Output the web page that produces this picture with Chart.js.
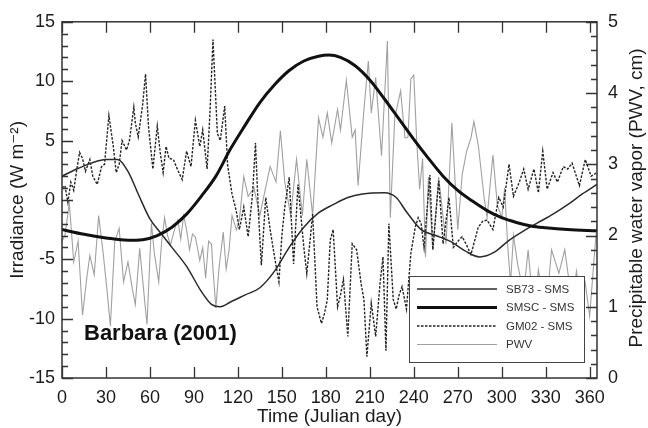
<!DOCTYPE html>
<html>
<head>
<meta charset="utf-8">
<script src="https://cdn.jsdelivr.net/npm/chart.js@4/dist/chart.umd.min.js"></script>
<style>
  html, body { margin: 0; padding: 0; background: #fff; }
  canvas { display: block; }
</style>
</head>
<body>
<canvas id="chart" width="648" height="428"></canvas>
<script>
// x axis ticks (Julian day)
const xTicks = [0, 30, 60, 90, 120, 150, 180, 210, 240, 270, 300, 330, 360];

// SB73 - SMS (W m-2)
const sb73Days = [0, 10, 20, 30, 38, 45, 52, 60, 68, 75, 85, 95, 102, 108, 115, 125, 135, 145, 155, 165,
  175, 185, 195, 205, 220, 228, 235, 245, 255, 265, 275, 285, 295, 305, 315, 325, 335, 345, 355, 365];
const sb73Vals = [2.0, 2.6, 3.1, 3.4, 3.4, 2.4, 0.5, -1.6, -2.9, -4.0, -5.6, -7.7, -8.8, -9.0, -8.6, -8.0, -7.4, -6.0, -4.0, -2.3,
  -1.1, -0.4, 0.2, 0.5, 0.6, 0.2, -1.0, -2.5, -3.0, -3.5, -4.3, -4.8, -4.4, -3.4, -2.6, -1.9, -1.2, -0.4, 0.5, 1.3];

// SMSC - SMS (W m-2)
const smscDays = [0, 15, 30, 45, 55, 65, 75, 85, 95, 105, 115, 125, 135, 145, 155, 165, 175, 182, 190, 200,
  210, 220, 230, 240, 250, 260, 270, 280, 290, 300, 310, 320, 330, 345, 365];
const smscVals = [-2.5, -2.9, -3.2, -3.4, -3.35, -3.0, -2.3, -1.2, 0.3, 2.0, 4.3, 6.3, 8.2, 9.7, 10.9, 11.7, 12.1, 12.2, 12.0, 11.3,
  10.1, 8.5, 6.8, 5.1, 3.5, 2.0, 0.8, -0.1, -0.9, -1.5, -1.9, -2.2, -2.35, -2.5, -2.6];

// GM02 - SMS (W m-2)
const gm02Days = [0, 2, 4, 6, 8, 10, 12, 14, 16, 19, 21, 24, 27, 29, 32, 35, 37, 39, 41, 44,
  46, 49, 50, 52, 55, 57, 59, 62, 65, 67, 69, 71, 73, 76, 79, 82, 85, 88, 91, 94,
  96, 99, 101, 103, 106, 108, 111, 113, 116, 119, 121, 124, 127, 130, 132, 134, 136, 139, 142, 145,
  148, 150, 152, 155, 158, 161, 165, 167, 171, 174, 177, 179, 181, 183, 185, 188, 190, 192, 195, 198,
  201, 204, 206, 208, 211, 214, 217, 219, 221, 223, 226, 228, 230, 232, 235, 238, 241, 243, 245, 247,
  251, 253, 257, 260, 264, 267, 270, 273, 276, 279, 284, 287, 290, 294, 298, 301, 305, 308, 312, 315,
  318, 322, 325, 328, 331, 335, 338, 342, 345, 348, 353, 357, 361, 365];
const gm02Vals = [1.0, 1.2, -0.2, 1.5, 0.8, 2.5, 4.0, 3.5, 2.4, 3.4, 2.0, 1.3, 2.8, 3.0, 7.1, 4.5, 2.3, 3.0, 5.0, 4.2,
  5.0, 7.8, 6.5, 5.3, 8.0, 10.6, 6.2, 2.6, 6.2, 4.0, 2.3, 4.5, 3.5, 3.4, 2.5, 1.7, 4.1, 2.8, 6.7, 4.5,
  5.9, 2.6, 7.5, 13.5, 5.6, 5.0, 7.9, 2.9, 0.5, -1.0, -2.5, -0.6, -3.1, 0.5, 4.8, -1.0, -5.5, 0.2, -2.5, -4.8,
  -6.9, -3.0, -0.6, 1.9, -5.4, 1.3, -4.0, -6.2, -1.2, -9.0, -10.4, -9.6, -8.4, -3.4, -2.5, -9.0, -8.0, -6.7, -11.5, -3.7,
  -4.2, -7.0, -8.4, -13.2, -8.7, -11.5, -7.0, -4.8, -12.7, -2.0, -8.4, -9.2, -8.0, -7.3, -9.2, -4.5, -2.3, -1.5, -2.0, -4.0,
  2.1, -4.2, 1.6, -3.7, 0.2, -4.0, -3.5, -3.1, -3.8, -4.6, -2.3, -1.8, -1.7, -2.5, 0.2, -0.6, 3.0, 0.3, 1.5, 2.6,
  0.9, 2.6, 0.6, 4.1, 0.9, 2.3, 1.5, 2.8, 2.6, 3.1, 1.2, 3.4, 2.0, 2.3];

// PWV (cm), right axis
const pwvDays = [0, 2, 5, 8, 11, 14, 17, 19, 22, 25, 28, 31, 33, 36, 39, 42, 45, 48, 50, 53,
  56, 58, 61, 63, 66, 68, 70, 72, 74, 77, 79, 81, 83, 85, 87, 89, 91, 94, 96, 98,
  100, 102, 103, 105, 107, 110, 112, 114, 116, 119, 121, 124, 127, 131, 135, 138, 142, 146, 149, 152,
  156, 160, 164, 167, 171, 175, 178, 181, 184, 188, 190, 194, 198, 200, 202, 206, 209, 211, 214, 218,
  222, 224, 227, 231, 234, 236, 238, 240, 242, 244, 246, 248, 250, 253, 257, 262, 266, 270, 273, 276,
  279, 281, 284, 288, 290, 294, 297, 300, 302, 304, 306, 308, 311, 315, 318, 322, 325, 330, 334, 339,
  343, 348, 351, 354, 357, 360, 363, 365];
const pwvVals = [1.92, 2.00, 2.45, 1.63, 1.92, 0.88, 1.42, 1.72, 1.45, 2.28, 1.77, 1.17, 0.73, 1.92, 2.10, 1.35, 1.63, 1.25, 1.03, 1.82,
  1.17, 0.75, 2.17, 1.75, 1.35, 1.92, 2.25, 2.00, 1.87, 2.10, 2.22, 1.95, 2.28, 2.08, 1.80, 2.02, 1.98, 1.65, 1.83, 1.40,
  1.92, 1.88, 1.53, 0.98, 1.52, 2.05, 1.53, 1.80, 2.28, 2.08, 2.22, 2.83, 2.55, 2.67, 2.28, 2.58, 2.97, 2.75, 3.47, 2.75,
  2.28, 3.07, 2.28, 3.07, 2.28, 3.65, 3.38, 3.72, 3.30, 3.77, 3.48, 4.18, 3.38, 3.48, 2.70, 3.77, 4.45, 3.72, 4.22, 3.12,
  4.73, 2.25, 3.65, 4.03, 3.37, 3.38, 4.20, 4.25, 3.33, 2.65, 3.08, 1.70, 2.82, 1.80, 2.82, 1.88, 3.58, 2.08, 2.85, 3.18,
  3.37, 3.60, 3.27, 2.53, 2.25, 3.13, 2.43, 2.25, 2.67, 1.88, 1.33, 2.00, 1.58, 1.18, 1.80, 0.87, 1.52, 0.87, 1.80, 1.47,
  1.80, 1.05, 1.50, 1.00, 1.33, 0.87, 1.67, 2.17];

const FONT = "'Liberation Sans', Arial, 'DejaVu Sans', sans-serif";
const TEXT = '#1c1c1c';
const AXIS = '#333333';

function zip(days, vals) {
  return days.map((d, i) => ({ x: d, y: vals[i] }));
}

const frameAndExtras = {
  id: 'frameAndExtras',
  afterDatasetsDraw(chart) {
    const { ctx, chartArea: a, scales } = chart;
    const x = scales.x, y = scales.y, y2 = scales.y2;
    ctx.save();

    // frame
    ctx.strokeStyle = AXIS;
    ctx.lineWidth = 1.5;
    ctx.strokeRect(a.left, a.top, a.right - a.left, a.bottom - a.top);

    // inward ticks
    ctx.lineWidth = 1.3;
    ctx.beginPath();
    for (const v of xTicks) {
      const px = Math.round(x.getPixelForValue(v)) + 0.5;
      ctx.moveTo(px, a.bottom); ctx.lineTo(px, a.bottom - 11);
      ctx.moveTo(px, a.top); ctx.lineTo(px, a.top + 11);
    }
    for (let v = -15; v <= 15; v++) {
      const py = Math.round(y.getPixelForValue(v)) + 0.5;
      const len = v % 5 === 0 ? 11 : 6;
      ctx.moveTo(a.left, py); ctx.lineTo(a.left + len, py);
    }
    for (let k = 0; k <= 25; k++) {
      const py = Math.round(y2.getPixelForValue(k / 5)) + 0.5;
      const len = k % 5 === 0 ? 11 : 6;
      ctx.moveTo(a.right, py); ctx.lineTo(a.right - len, py);
    }
    ctx.stroke();

    // legend box
    const bx = 409, by = 276, bw = 175, bh = 86;
    ctx.fillStyle = '#fff';
    ctx.fillRect(bx, by, bw, bh);
    ctx.strokeStyle = '#444';
    ctx.lineWidth = 1;
    ctx.strokeRect(bx + 0.5, by + 0.5, bw, bh);
    ctx.font = '11.5px ' + FONT;
    ctx.textBaseline = 'middle';
    ctx.textAlign = 'left';
    chart.data.datasets.forEach((ds, i) => {
      const ly = by + 13 + i * 18.5;
      ctx.beginPath();
      ctx.strokeStyle = ds.borderColor;
      ctx.lineWidth = ds.borderWidth;
      ctx.setLineDash(ds.borderDash || []);
      ctx.moveTo(bx + 8, ly); ctx.lineTo(bx + 88, ly);
      ctx.stroke();
      ctx.setLineDash([]);
      ctx.fillStyle = '#333';
      ctx.fillText(ds.label, bx + 97, ly + 0.5);
    });

    // station label
    ctx.fillStyle = '#111';
    ctx.font = 'bold 22px ' + FONT;
    ctx.fillText('Barbara (2001)', 84, 334);

    // right axis title, reading upward
    ctx.font = '19px ' + FONT;
    ctx.fillStyle = TEXT;
    ctx.textAlign = 'center';
    ctx.translate(637, (a.top + a.bottom) / 2 - 2);
    ctx.rotate(-Math.PI / 2);
    ctx.fillText('Precipitable water vapor (PWV, cm)', 0, 0);
    ctx.restore();
  }
};

new Chart(document.getElementById('chart').getContext('2d'), {
  type: 'line',
  data: {
    datasets: [
      {
        label: 'SB73 - SMS', data: zip(sb73Days, sb73Vals), yAxisID: 'y',
        borderColor: '#2a2a2a', borderWidth: 1.5, pointRadius: 0,
        cubicInterpolationMode: 'monotone', order: 1
      },
      {
        label: 'SMSC - SMS', data: zip(smscDays, smscVals), yAxisID: 'y',
        borderColor: '#111111', borderWidth: 3, pointRadius: 0,
        cubicInterpolationMode: 'monotone', order: 0
      },
      {
        label: 'GM02 - SMS', data: zip(gm02Days, gm02Vals), yAxisID: 'y',
        borderColor: '#222222', borderWidth: 1.4, borderDash: [2.5, 1.5], pointRadius: 0,
        tension: 0, order: 2
      },
      {
        label: 'PWV', data: zip(pwvDays, pwvVals), yAxisID: 'y2',
        borderColor: '#a0a0a0', borderWidth: 1.1, pointRadius: 0,
        tension: 0, order: 3
      }
    ]
  },
  options: {
    responsive: false,
    animation: false,
    devicePixelRatio: 1,
    layout: { padding: { top: 17, left: 0, right: 0, bottom: 0 } },
    plugins: { legend: { display: false }, tooltip: { enabled: false } },
    scales: {
      x: {
        type: 'linear', position: 'bottom', min: 0, max: 365,
        grid: { display: false, drawTicks: false }, border: { display: false },
        afterBuildTicks: s => { s.ticks = xTicks.map(v => ({ value: v })); },
        afterFit: s => { s.height = 50; },
        ticks: { padding: 9, maxRotation: 0, autoSkip: false, color: TEXT, font: { family: FONT, size: 18 } },
        title: { display: true, text: 'Time (Julian day)', color: TEXT, font: { family: FONT, size: 19 }, padding: { top: 0, bottom: 0 } }
      },
      y: {
        position: 'left', min: -15, max: 15,
        grid: { display: false, drawTicks: false }, border: { display: false },
        afterFit: s => { s.width = 62; },
        ticks: { stepSize: 5, padding: 7, color: TEXT, font: { family: FONT, size: 18 } },
        title: { display: true, text: 'Irradiance (W m\u207B\u00B2)', color: TEXT, font: { family: FONT, size: 19 }, padding: { top: 6, bottom: 0 } }
      },
      y2: {
        position: 'right', min: 0, max: 5,
        grid: { display: false, drawTicks: false }, border: { display: false },
        afterFit: s => { s.width = 51; },
        ticks: { stepSize: 1, padding: 11, color: TEXT, font: { family: FONT, size: 18 } }
      }
    }
  },
  plugins: [frameAndExtras]
});
</script>
</body>
</html>
